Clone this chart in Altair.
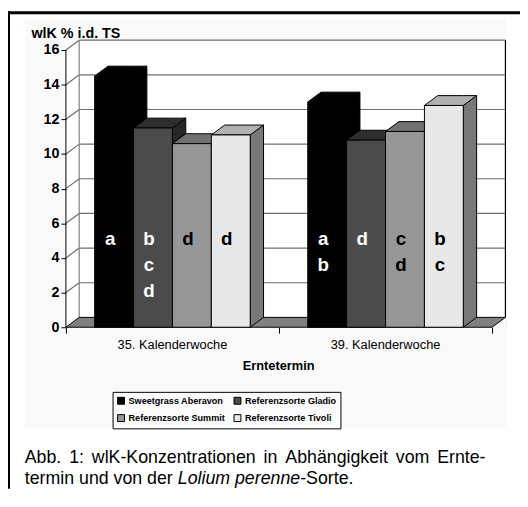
import altair as alt
import pandas as pd

# ---------------- data ----------------
weeks = ["35. Kalenderwoche", "39. Kalenderwoche"]
varieties = ["Sweetgrass Aberavon", "Referenzsorte Gladio",
             "Referenzsorte Summit", "Referenzsorte Tivoli"]
wlk_kw35 = [14.5, 11.5, 10.6, 11.1]
wlk_kw39 = [13.0, 10.8, 11.3, 12.8]
letters_kw35 = ["a", "bcd", "d", "d"]
letters_kw39 = ["ab", "d", "cd", "bc"]
y_ticks = [0, 2, 4, 6, 8, 10, 12, 14, 16]

# ---------------- styles ----------------
front_colors = ["#000000", "#4b4b4b", "#969696", "#e8e8e8"]
top_colors = ["#000000", "#2e2e2e", "#717171", "#b0b0b0"]
side_colors = ["#000000", "#262626", "#5c5c5c", "#787878"]
letter_colors = ["#ffffff", "#ffffff", "#000000", "#000000"]
FONT = "Liberation Sans"

BAR_W = 0.1825      # width of one bar in category units
DX = 0.0625         # 3-D depth, x (category units)
DY = 0.57           # 3-D depth, y (value units)
nw = len(weeks)
XMAX = nw + DX
YMAX = max(y_ticks) + DY
W, H = 445.5, 291.0
PAD = {"left": 58.7, "top": 29.3, "right": 14.8, "bottom": 163.7}

xs = alt.Scale(domain=[0, XMAX], nice=False, zero=False)
ys = alt.Scale(domain=[0, YMAX], nice=False, zero=False)
x_axis = alt.Axis(values=list(range(nw + 1)), labels=False, domain=False,
                  grid=False, ticks=True, tickSize=6, tickColor="black",
                  tickWidth=1, title=None, zindex=1)
y_axis = alt.Axis(values=y_ticks, domain=False, grid=False, ticks=True,
                  tickSize=5, tickColor="black", tickWidth=1, labelFont=FONT,
                  labelFontWeight="bold", labelFontSize=14.5, labelPadding=2,
                  labelColor="black", title=None, zindex=1)


def X(f):
    return alt.X(f, type="quantitative", scale=xs, axis=x_axis)


def Y(f):
    return alt.Y(f, type="quantitative", scale=ys, axis=y_axis)


values = [wlk_kw35, wlk_kw39]
letters = [letters_kw35, letters_kw39]

fronts, tops, sides, txt = [], [], [], []
for g, wk in enumerate(weeks):
    start = g + 0.5 - 2 * BAR_W
    for s, var in enumerate(varieties):
        v = values[g][s]
        x0 = start + s * BAR_W
        x1 = x0 + BAR_W
        bid = f"{g}{s}"
        fronts.append(dict(x=x0, x2=x1, y=0.0, y2=v, variety=var))
        for px, lo, hi in [(x0, v, v), (x0 + DX, v, v + DY),
                           (x1, v, v + DY), (x1 + DX, v + DY, v + DY)]:
            tops.append(dict(id=bid, x=px, lo=lo, hi=hi, c=top_colors[s]))
        for px, lo, hi in [(x1, 0.0, v), (x1 + DX, DY, v + DY)]:
            sides.append(dict(id=bid, x=px, lo=lo, hi=hi, c=side_colors[s]))
        for r, ch in enumerate(letters[g][s]):
            txt.append(dict(x=(x0 + x1) / 2, y=5.1 - 1.5 * r, t=ch,
                            c=letter_colors[s]))

fronts = pd.DataFrame(fronts)
tops = pd.DataFrame(tops)
sides = pd.DataFrame(sides)
txt = pd.DataFrame(txt)

grid_vals = [t for t in y_ticks if t > 0]
back_grid = pd.DataFrame({"x": DX, "x2": nw + DX,
                          "y": [t + DY for t in grid_vals]})
side_grid = pd.DataFrame({"x": 0.0, "x2": DX, "y": grid_vals,
                          "y2": [t + DY for t in grid_vals]})
back_wall = pd.DataFrame({"x": [DX], "x2": [nw + DX], "y": [DY], "y2": [YMAX]})
left_wall = pd.DataFrame({"x": [0.0, DX], "lo": [0.0, DY],
                          "hi": [float(max(y_ticks)), YMAX]})
floor = pd.DataFrame({"x": [0.0, DX, nw, nw + DX],
                      "lo": [0.0, 0.0, 0.0, DY],
                      "hi": [0.0, DY, DY, DY]})
wall_edges = pd.DataFrame({"x": [DX, nw + DX], "y": [DY, DY],
                           "y2": [YMAX, YMAX], "c": ["#808080", "#000000"]})
week_lbl = pd.DataFrame({"x": [i + 0.5 for i in range(nw)], "t": weeks})
axis_df = pd.DataFrame({"x": [0.0], "y": [float(min(y_ticks))],
                        "y2": [float(max(y_ticks))]})
dummy = pd.DataFrame({"a": [0]})

# legend order: Vega fills the 2 columns top-to-bottom
legend_order = [varieties[0], varieties[2], varieties[1], varieties[3]]
legend_range = [front_colors[0], front_colors[2], front_colors[1], front_colors[3]]

# ---------------- layers ----------------
area_bg = alt.Chart(dummy).mark_rect(color="#f9f9f9").encode(
    x=alt.value(-41.7), x2=alt.value(446.3), y=alt.value(-20.3), y2=alt.value(392.7))
frame_top = alt.Chart(dummy).mark_rule(color="black", strokeWidth=3).encode(
    x=alt.value(-PAD["left"]), x2=alt.value(W + PAD["right"]),
    y=alt.value(-PAD["top"] + 1.5))
frame_left = alt.Chart(dummy).mark_rule(color="black", strokeWidth=2).encode(
    x=alt.value(-PAD["left"] + 1), y=alt.value(-PAD["top"]),
    y2=alt.value(H + PAD["bottom"]))

wall = alt.Chart(back_wall).mark_rect(color="white").encode(
    x=X("x"), x2="x2", y=Y("y"), y2="y2")
lwall = alt.Chart(left_wall).mark_area(color="white").encode(
    x=X("x"), y=Y("lo"), y2="hi")
bgrid = alt.Chart(back_grid).mark_rule(color="#6e6e6e", strokeWidth=1.2).encode(
    x=X("x"), x2="x2", y=Y("y"))
sgrid = alt.Chart(side_grid).mark_rule(color="#6e6e6e", strokeWidth=1.2).encode(
    x=X("x"), x2="x2", y=Y("y"), y2="y2")
edges = alt.Chart(wall_edges).mark_rule(strokeWidth=1.2).encode(
    x=X("x"), y=Y("y"), y2="y2", color=alt.Color("c:N", scale=None))
floor_l = alt.Chart(floor).mark_area(fill="#808080", stroke="black",
                                     strokeWidth=1).encode(
    x=X("x"), y=Y("lo"), y2="hi")

side_l = alt.Chart(sides).mark_area(stroke="black", strokeWidth=1,
                                    interpolate="linear").encode(
    x=X("x"), y=Y("lo"), y2="hi", fill=alt.Fill("c:N", scale=None),
    detail="id:N")
top_l = alt.Chart(tops).mark_area(stroke="black", strokeWidth=1,
                                  interpolate="linear").encode(
    x=X("x"), y=Y("lo"), y2="hi", fill=alt.Fill("c:N", scale=None),
    detail="id:N")
front_l = alt.Chart(fronts).mark_rect(stroke="black", strokeWidth=1).encode(
    x=X("x"), x2="x2", y=Y("y"), y2="y2",
    color=alt.Color("variety:N",
                    scale=alt.Scale(domain=legend_order, range=legend_range),
                    legend=alt.Legend(
                        title=None, orient="none", legendX=47.3, legendY=356.5,
                        columns=2, symbolType="square", symbolSize=49,
                        symbolStrokeColor="black", symbolStrokeWidth=1,
                        labelFont=FONT, labelFontWeight="bold",
                        labelFontSize=9.2, labelColor="black", labelOffset=3,
                        columnPadding=7, rowPadding=6, padding=4,
                        strokeColor="black", fillColor="#fbfbfb")))
letters_l = alt.Chart(txt).mark_text(font=FONT, fontWeight="bold", fontSize=19,
                                     baseline="middle", dx=-4).encode(
    x=X("x"), y=Y("y"), text="t:N", color=alt.Color("c:N", scale=None))

axis_l = alt.Chart(axis_df).mark_rule(color="black", strokeWidth=1).encode(
    x=X("x"), y=Y("y"), y2="y2")

week_l = alt.Chart(week_lbl).mark_text(font=FONT, fontSize=13, color="black",
                                       baseline="middle").encode(
    x=X("x"), y=alt.value(H + 18), text="t:N")
xtitle = alt.Chart(dummy).mark_text(text="Erntetermin", font=FONT, fontSize=13,
                                    fontWeight="bold", color="black",
                                    baseline="middle").encode(
    x=alt.value(215.6), y=alt.value(H + 39))
ytitle = alt.Chart(dummy).mark_text(text="wlK % i.d. TS", font=FONT, fontSize=14.5,
                                    fontWeight="bold", color="black",
                                    align="left", baseline="middle").encode(
    x=alt.value(-35), y=alt.value(-6))


def cap(text, x, y, align="left", style="normal"):
    return alt.Chart(dummy).mark_text(text=text, font=FONT, fontSize=18,
                                      fontStyle=style, color="black",
                                      align=align, baseline="middle").encode(
        x=alt.value(x), y=alt.value(y))


L1, L2 = 423.4, 444.7
caption = [
    cap("Abb.", -41.7, L1),
    cap("1:", 3.3, L1),
    cap("wlK-Konzentrationen", 26.3, L1),
    cap("in", 200.4, L1),
    cap("Abhängigkeit", 222.4, L1),
    cap("vom", 334.4, L1),
    cap("Ernte-", 425.3, L1, align="right"),
    cap("termin und von der", -41.7, L2),
    cap("Lolium perenne", 113.4, L2, style="italic"),
    cap("-Sorte.", 237.5, L2),
]

chart = alt.layer(
    area_bg, frame_top, frame_left, wall, lwall, bgrid, sgrid, edges, floor_l,
    side_l, top_l, front_l, letters_l, axis_l, week_l, xtitle, ytitle, *caption
).properties(
    width=W, height=H, padding=PAD,
    autosize=alt.AutoSizeParams(type="none"),
).configure_view(stroke=None).configure(background="white", font=FONT)

chart.save("out.html", embed_options={"renderer": "svg", "actions": False})
